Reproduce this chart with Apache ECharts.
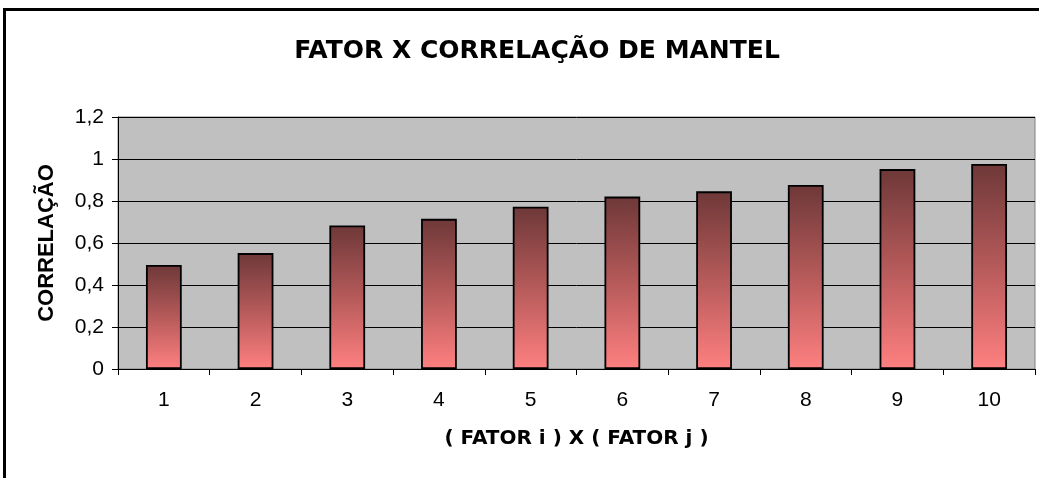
<!DOCTYPE html>
<html>
<head>
<meta charset="utf-8">
<script src="https://cdn.jsdelivr.net/npm/echarts@6/dist/echarts.min.js"></script>
<style>
  html, body { margin: 0; padding: 0; background: #fff; }
  #chart { width: 1039px; height: 478px; }
</style>
</head>
<body>
<div id="chart"></div>
<script>
// Pairs of factors (i x j) and their Mantel correlation
const categories = ['1', '2', '3', '4', '5', '6', '7', '8', '9', '10'];
const correlation = [0.495, 0.552, 0.683, 0.715, 0.773, 0.821, 0.846, 0.876, 0.952, 0.976];
const yTicks = { min: 0, max: 1.2, interval: 0.2 };

const font = 'Liberation Sans, Arial, sans-serif';
const wideBold = 'DejaVu Sans, Liberation Sans, sans-serif';
const chart = echarts.init(document.getElementById('chart'));

chart.setOption({
  animation: false,
  backgroundColor: '#ffffff',
  title: {
    text: 'FATOR X CORRELAÇÃO DE MANTEL',
    left: 532,
    top: 34,
    textAlign: 'center',
    textStyle: { fontFamily: wideBold, fontSize: 25, fontWeight: 'bold', color: '#000' }
  },
  graphic: [{
    type: 'rect',
    shape: { x: 4.5, y: 9.5, width: 1100, height: 600 },
    style: { fill: 'none', stroke: '#000', lineWidth: 3 },
    z: 100
  }],
  grid: {
    left: 118, right: 4, top: 117, bottom: 109,
    show: true, backgroundColor: '#c0c0c0', borderColor: '#808080', borderWidth: 1
  },
  xAxis: {
    type: 'category',
    data: categories,
    name: '( FATOR i ) X ( FATOR j )',
    nameLocation: 'middle',
    nameGap: 60,
    nameTextStyle: { fontFamily: wideBold, fontSize: 20, fontWeight: 'bold', color: '#000' },
    axisLine: { lineStyle: { color: '#000', width: 1 } },
    axisTick: { show: true, length: 6, lineStyle: { color: '#000' } },
    axisLabel: { fontFamily: font, fontSize: 21, color: '#000', margin: 21 }
  },
  yAxis: {
    type: 'value',
    min: yTicks.min, max: yTicks.max, interval: yTicks.interval,
    name: 'CORRELAÇÃO',
    nameLocation: 'middle',
    nameGap: 60,
    nameTextStyle: { fontFamily: font, fontSize: 22, fontWeight: 'bold', color: '#000' },
    axisLine: { show: true, lineStyle: { color: '#000', width: 1 } },
    axisTick: { show: true, length: 6, lineStyle: { color: '#000' } },
    axisLabel: {
      fontFamily: font, fontSize: 21, color: '#000', margin: 14,
      formatter: v => String(Math.round(v * 10) / 10).replace('.', ',')
    },
    splitLine: { lineStyle: { color: '#000', width: 1 } }
  },
  series: [{
    type: 'bar',
    data: correlation,
    barWidth: '39%',
    itemStyle: {
      borderColor: '#000',
      borderWidth: 1.8,
      color: new echarts.graphic.LinearGradient(0, 0, 0, 1, [
        { offset: 0, color: '#6e3838' },
        { offset: 0.5, color: '#b65a5a' },
        { offset: 1, color: '#ff8080' }
      ])
    }
  }]
});
</script>
</body>
</html>
